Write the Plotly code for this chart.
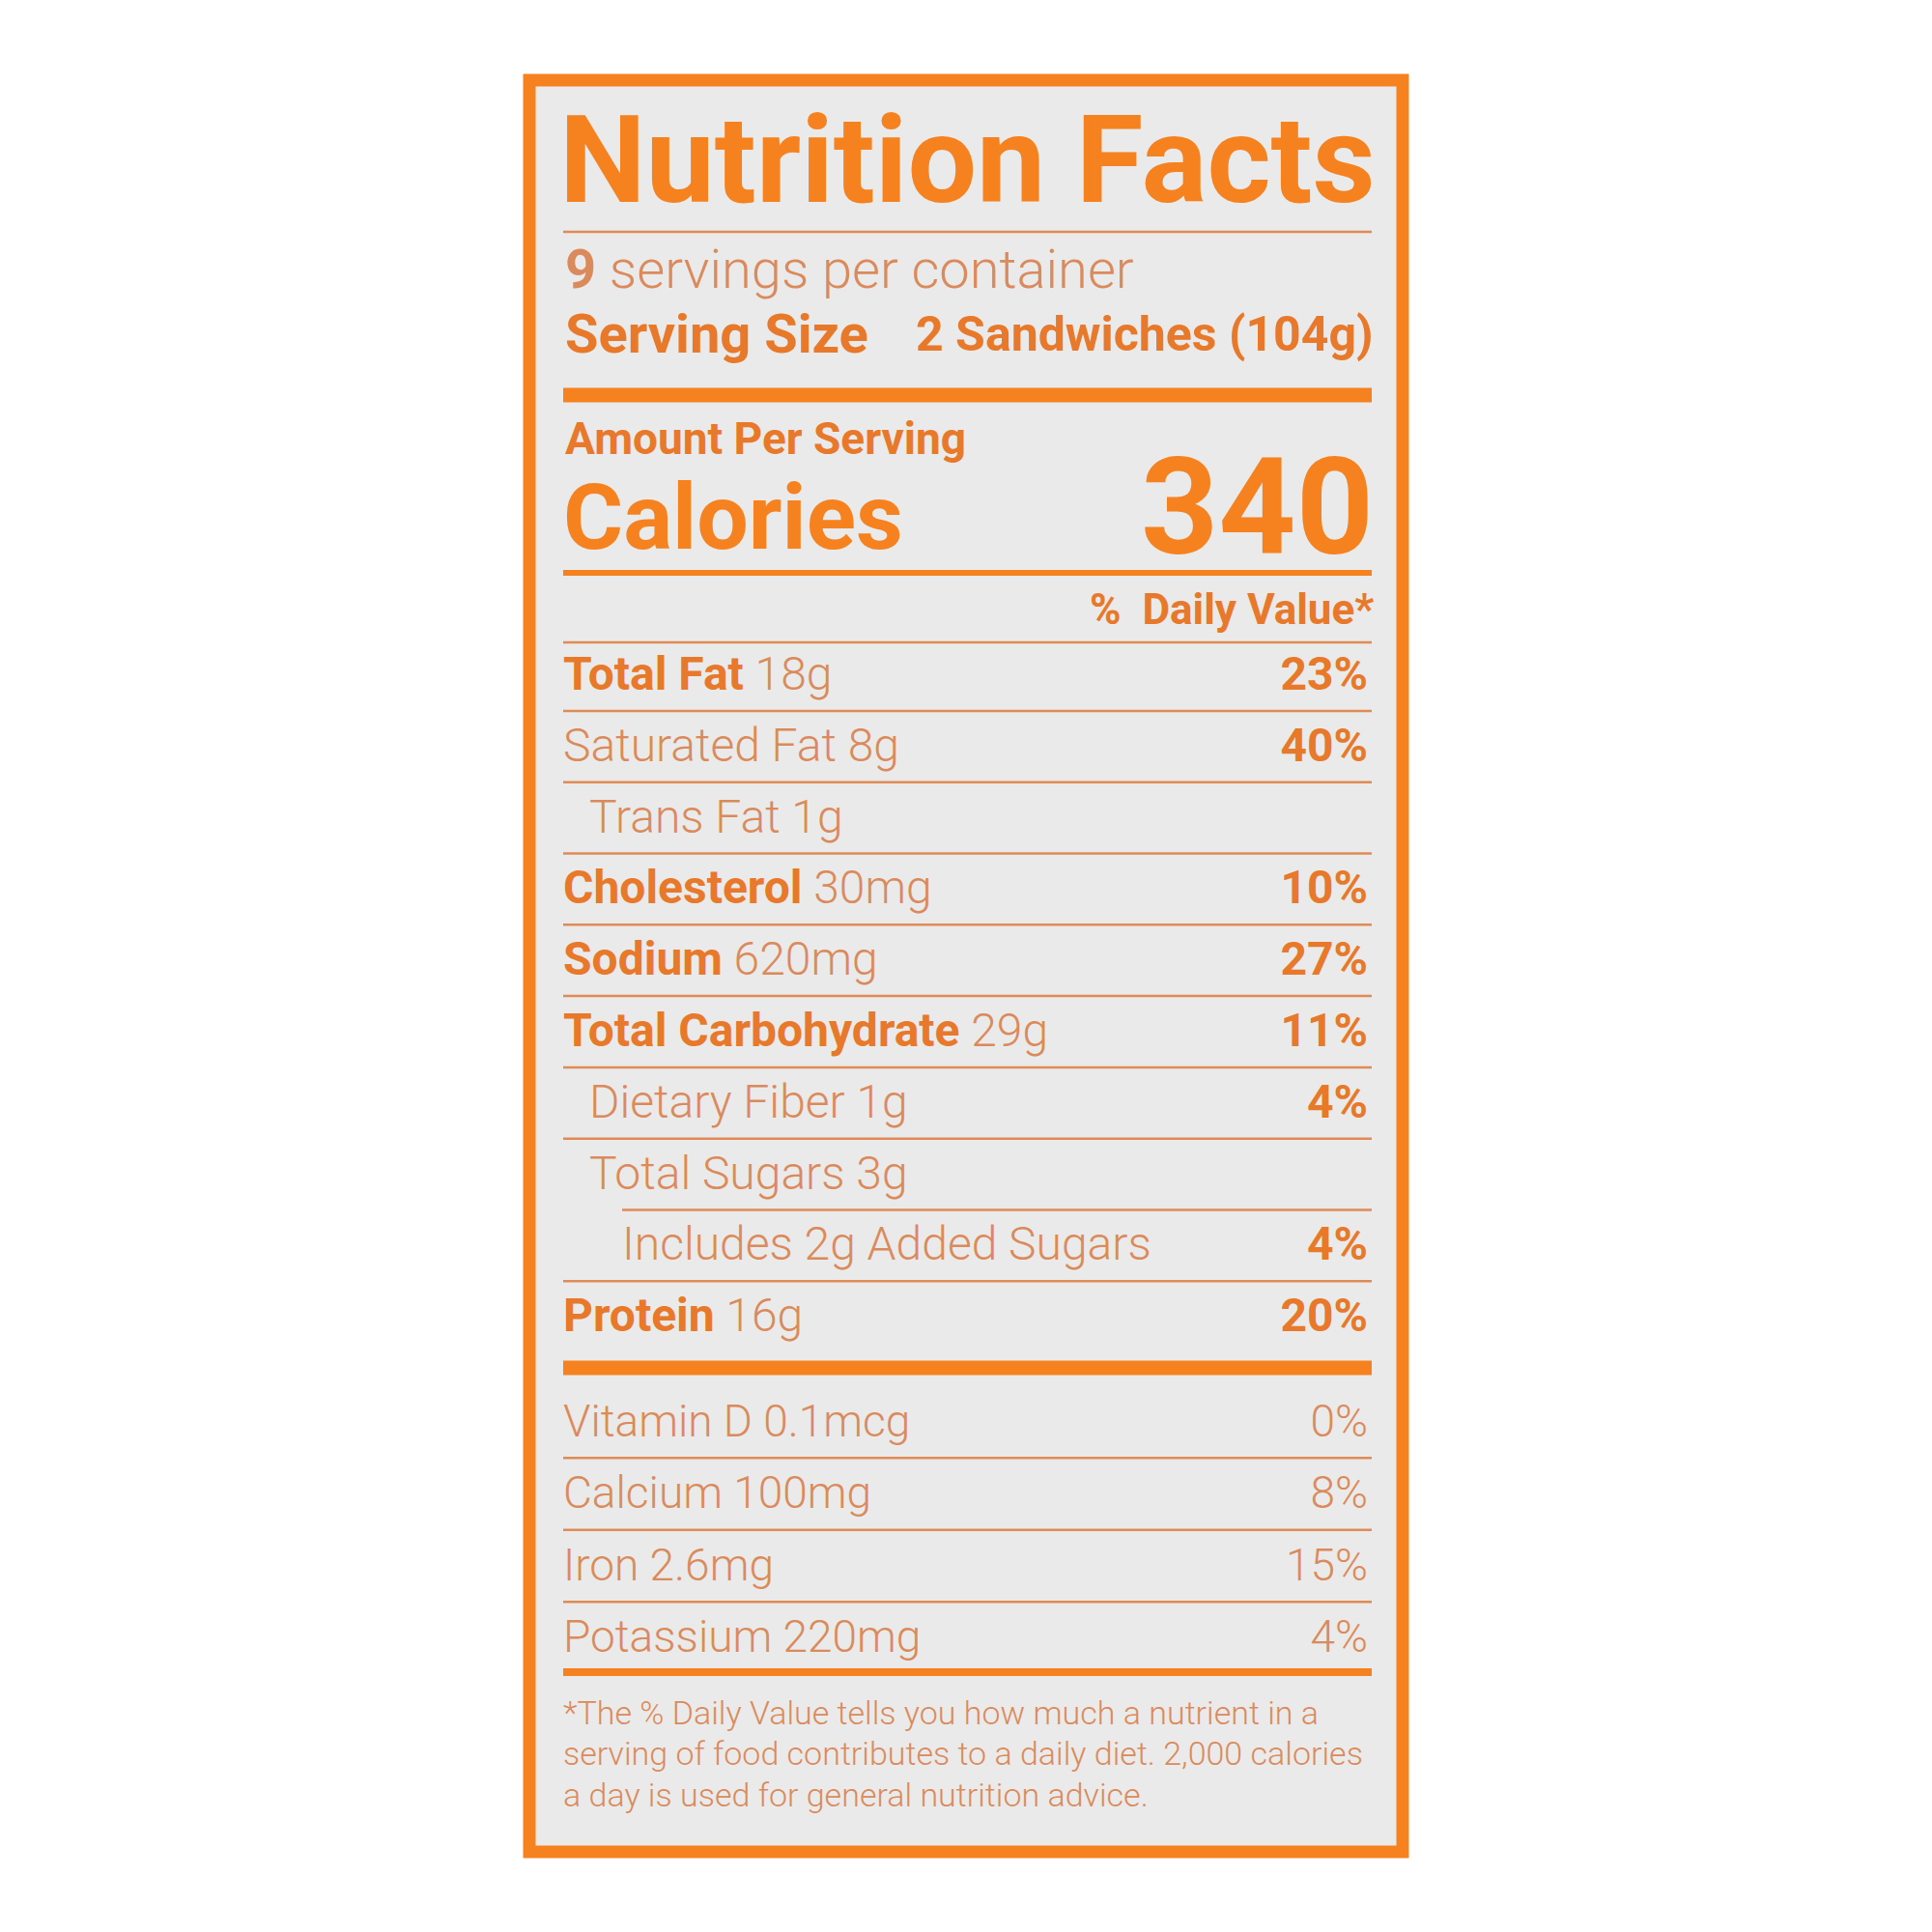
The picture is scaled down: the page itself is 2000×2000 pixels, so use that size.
import plotly.graph_objects as go

# Label content
title = "Nutrition Facts"
servings = "9"
servings_text = "servings per container"
serving_size_label = "Serving Size"
serving_size = "2 Sandwiches (104g)"
calories_value = "340"

nutrients = ["Total Fat", "Saturated Fat", "Trans Fat", "Cholesterol", "Sodium",
             "Total Carbohydrate", "Dietary Fiber", "Total Sugars",
             "Includes 2g Added Sugars", "Protein"]
amounts = ["18g", "8g", "1g", "30mg", "620mg", "29g", "1g", "3g", "", "16g"]
daily_values = ["23%", "40%", "", "10%", "27%", "11%", "4%", "", "4%", "20%"]
bold_label = [True, False, False, True, True, True, False, False, False, True]
indent = [0, 0, 1, 0, 0, 0, 1, 1, 2, 0]

vitamins = ["Vitamin D", "Calcium", "Iron", "Potassium"]
vitamin_amounts = ["0.1mcg", "100mg", "2.6mg", "220mg"]
vitamin_dv = ["0%", "8%", "15%", "4%"]

footnote = ["*The % Daily Value tells you how much a nutrient in a",
            "serving of food contributes to a daily diet. 2,000 calories",
            "a day is used for general nutrition advice."]

# colours
BORDER = "#f5821f"
BOLD = "#e8782a"
LIGHT = "#db8a5c"
RULE = "#e08a55"
PANEL = "#eaeaea"
FONT = "Roboto"

# layout in pixels
L, R = 583, 1420
row_top, row_step = 702, 73.8
vit_top, vit_step = 1475, 74.5
indent_px = [0, 27, 61]
OFF = 8  # page body margin

fig = go.Figure()

# nutrient rows
row_y = [row_top + i * row_step for i in range(len(nutrients))]
row_x = [L + indent_px[k] for k in indent]
row_text = []
for name, amt, b in zip(nutrients, amounts, bold_label):
    lab = f"<span style='color:{BOLD}'><b>{name}</b></span>" if b else name
    row_text.append(f"{lab} {amt}".strip())
fig.add_trace(go.Scatter(x=row_x, y=row_y, mode="text", text=row_text,
                         textposition="middle right",
                         textfont=dict(family=FONT, size=48, color=LIGHT, weight=300)))
fig.add_trace(go.Scatter(x=[R - 4] * len(daily_values), y=row_y, mode="text",
                         text=[f"<b>{v}</b>" for v in daily_values],
                         textposition="middle left",
                         textfont=dict(family=FONT, size=48, color=BOLD)))

# vitamins
vit_y = [vit_top + i * vit_step for i in range(len(vitamins))]
fig.add_trace(go.Scatter(x=[L] * len(vitamins), y=vit_y, mode="text",
                         text=[f"{n} {a}" for n, a in zip(vitamins, vitamin_amounts)],
                         textposition="middle right",
                         textfont=dict(family=FONT, size=46, color=LIGHT, weight=300)))
fig.add_trace(go.Scatter(x=[R - 4] * len(vitamins), y=vit_y, mode="text",
                         text=vitamin_dv, textposition="middle left",
                         textfont=dict(family=FONT, size=46, color=LIGHT, weight=300)))

# footnote
fig.add_trace(go.Scatter(x=[L] * len(footnote), y=[1776 + i * 42.5 for i in range(len(footnote))],
                         mode="text", text=footnote, textposition="middle right",
                         textfont=dict(family=FONT, size=34, color=LIGHT, weight=300)))

# frame
shapes = [dict(type="rect", x0=548, x1=1452, y0=83, y1=1917,
               fillcolor=PANEL, line=dict(color=BORDER, width=13), layer="below")]


def rule(y, w, x0=L, color=RULE):
    shapes.append(dict(type="line", x0=x0, x1=R, y0=y, y1=y,
                       line=dict(color=color, width=w)))


rule(240, 2.5)
rule(409, 15, color=BORDER)
rule(593, 6, color=BORDER)
rule(665, 2.5)
for i in range(len(nutrients) - 1):
    x0 = L + indent_px[indent[i + 1]] if indent[i + 1] == 2 else L
    rule(row_y[i] + row_step / 2 - 3, 2.5, x0=x0)
rule(1416, 15, color=BORDER)
for i in range(len(vitamins) - 1):
    rule(vit_y[i] + vit_step / 2 - 3, 2.5)
rule(1731, 8, color=BORDER)

# header text
ann = [
    dict(x=L - 6, y=165, text=f"<b>{title}</b>", xanchor="left", yanchor="middle",
         font=dict(family=FONT, size=127, color=BORDER, weight=900)),
    dict(x=L, y=279, text=f"<b>{servings}</b> {servings_text}", xanchor="left", yanchor="middle",
         font=dict(family=FONT, size=56, color=LIGHT, weight=300)),
    dict(x=L, y=346, text=f"<b>{serving_size_label}</b>", xanchor="left", yanchor="middle",
         font=dict(family=FONT, size=56, color=BOLD)),
    dict(x=R + 4, y=346, text=f"<b>{serving_size}</b>", xanchor="right", yanchor="middle",
         font=dict(family=FONT, size=50, color=BOLD)),
    dict(x=L, y=454, text="<b>Amount Per Serving</b>", xanchor="left", yanchor="middle",
         font=dict(family=FONT, size=46, color=BOLD)),
    dict(x=L - 2, y=535, text="<b>Calories</b>", xanchor="left", yanchor="middle",
         font=dict(family=FONT, size=95, color=BORDER, weight=900)),
    dict(x=R + 4, y=525, text=f"<b>{calories_value}</b>", xanchor="right", yanchor="middle",
         font=dict(family=FONT, size=140, color=BORDER, weight=900)),
    dict(x=R + 4, y=631, text="<b>%  Daily Value*</b>", xanchor="right", yanchor="middle",
         font=dict(family=FONT, size=44, color=BOLD)),
]
for a in ann:
    a.update(showarrow=False, xref="x", yref="y")

fig.update_layout(
    width=2000, height=2000, margin=dict(l=0, r=0, t=0, b=0),
    paper_bgcolor="white", plot_bgcolor="white", showlegend=False,
    xaxis=dict(range=[OFF, 2000 + OFF], visible=False, fixedrange=True),
    yaxis=dict(range=[2000 + OFF, OFF], visible=False, fixedrange=True),
    shapes=shapes, annotations=ann,
)

fig.write_html("out.html")
